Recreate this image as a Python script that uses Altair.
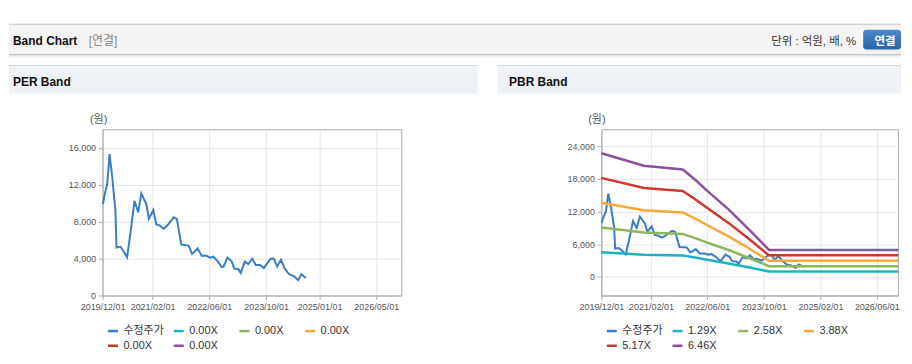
import altair as alt
import pandas as pd

# ---------------- data ----------------
price_dates = [
    "2019-12-05", "2019-12-16", "2020-01-10", "2020-01-30", "2020-02-13", "2020-02-22",
    "2020-03-06", "2020-03-20", "2020-03-29", "2020-05-02", "2020-06-28", "2020-07-26",
    "2020-08-30", "2020-10-01", "2020-10-28", "2020-11-26", "2020-12-10", "2020-12-31",
    "2021-02-07", "2021-03-05", "2021-04-02", "2021-05-06", "2021-06-09", "2021-07-31",
    "2021-08-28", "2021-10-05", "2021-12-06", "2022-01-05", "2022-01-24", "2022-02-21",
    "2022-03-29", "2022-05-11", "2022-06-08", "2022-07-06", "2022-08-13", "2022-09-16",
    "2022-10-01", "2022-11-04", "2022-12-10", "2023-01-01", "2023-02-06", "2023-02-26",
    "2023-04-02", "2023-05-01", "2023-06-04", "2023-07-05", "2023-08-09", "2023-09-12",
    "2023-10-05", "2023-11-08", "2023-12-06", "2024-01-04", "2024-02-05", "2024-03-09",
    "2024-04-15", "2024-05-25", "2024-07-01", "2024-07-29", "2024-09-05",
]
price_values = [
    9900, 10800, 12060, 15300, 13700, 12800,
    11000, 9200, 5200, 5300, 4150, 6700,
    10250, 9000, 11050, 10250, 9900, 8300,
    9260, 7700, 7600, 7200, 7600, 8460,
    8300, 5500, 5400, 4500, 4700, 5100,
    4300, 4300, 4100, 4200, 3700, 3080,
    3100, 4100, 3700, 2900, 2850, 2440,
    3660, 3400, 3980, 3300, 3300, 2970,
    3400, 3980, 3980, 3150, 3870, 2900,
    2300, 2100, 1650, 2300, 1900,
]

band_dates = ["2019-12-01", "2020-12-01", "2021-11-01", "2021-12-01", "2022-03-01",
              "2022-06-01", "2022-12-01", "2023-06-01", "2023-11-15", "2026-12-01"]
pbr_129 = [4530, 4070, 3930, 3830, 3510, 3160, 2480, 1720, 990, 990]
pbr_258 = [9070, 8150, 7870, 7670, 7030, 6310, 4950, 3430, 1980, 1980]
pbr_388 = [13630, 12250, 11830, 11530, 10570, 9490, 7450, 5170, 2970, 2970]
pbr_517 = [18170, 16330, 15770, 15370, 14080, 12640, 9920, 6880, 3960, 3960]
pbr_646 = [22700, 20400, 19700, 19200, 17600, 15800, 12400, 8600, 4950, 4950]

price_name = "수정주가"
pbr_names = ["1.29X", "2.58X", "3.88X", "5.17X", "6.46X"]
per_keys = ["PER_a", "PER_b", "PER_c", "PER_d", "PER_e"]
per_label = "0.00X"
series_colors = ["#3a7cc8", "#1cb2c4", "#8db55b", "#f5a93b", "#cf372c", "#8c519c"]

x_range = ["2019-12-01", "2026-12-01"]
x_ticks_per = ["2019-12-01", "2021-02-01", "2022-06-01", "2023-10-01", "2025-01-01", "2026-05-01"]
x_ticks_pbr = ["2019-12-01", "2021-02-01", "2022-06-01", "2023-10-01", "2025-02-01", "2026-06-01"]
y_ticks_per = [0, 4000, 8000, 12000, 16000]
y_ticks_pbr = [0, 6000, 12000, 18000, 24000]
y_range_per = [0, 18000]
y_range_pbr = [-3400, 27100]

# ---------------- tables ----------------
price_df = pd.DataFrame({"date": pd.to_datetime(price_dates), "value": price_values,
                         "series": price_name})
band_df = pd.concat([
    pd.DataFrame({"date": pd.to_datetime(band_dates), "value": vals, "series": name})
    for name, vals in zip(pbr_names, [pbr_129, pbr_258, pbr_388, pbr_517, pbr_646])
], ignore_index=True)

FONT = "Liberation Sans, Noto Sans CJK KR"


def dt(s):
    y, m, d = (int(v) for v in s.split("-"))
    return alt.DateTime(year=y, month=m, date=d)


def panel(y_range, y_ticks, x_ticks, domain, title_x, label_expr=None, bands=None):
    xenc = alt.X("date:T",
                 scale=alt.Scale(domain=[dt(x_range[0]), dt(x_range[1])]),
                 axis=alt.Axis(values=[dt(t) for t in x_ticks], format="%Y/%m/%d", title=None,
                               labelFlush=False, labelOverlap=False, grid=True))
    yenc = alt.Y("value:Q",
                 scale=alt.Scale(domain=y_range, nice=False, zero=False),
                 axis=alt.Axis(values=y_ticks, format=",d", title="(원)", titleAngle=0,
                               titleX=title_x, titleY=-10, titleAlign="center",
                               titleBaseline="middle", titleFont=FONT, titleFontSize=11,
                               titleFontWeight="normal", titleColor="#555555",
                               labelFlush=False, grid=True))
    leg = dict(orient="none", legendX=4, legendY=196, direction="horizontal", columns=4,
               title=None, symbolType="stroke", symbolSize=100, symbolStrokeWidth=2.5,
               labelFont=FONT, labelFontSize=11, labelColor="#333333", labelOffset=4,
               columnPadding=4, rowPadding=3, gridAlign="all", padding=0)
    if label_expr:
        leg["labelExpr"] = label_expr
    color = alt.Color("series:N", scale=alt.Scale(domain=domain, range=series_colors),
                      legend=alt.Legend(**leg))
    layers = [alt.Chart(price_df).mark_line(strokeWidth=2).encode(x=xenc, y=yenc, color=color)]
    if bands is not None:
        layers.append(alt.Chart(bands).mark_line(strokeWidth=2.5).encode(
            x=xenc, y=yenc, color=color, detail="series:N"))
    return layers


# ---------------- page decoration (page pixel coordinates) ----------------
OX, OY = 102, 128
RIGHT = 904   # keep the drawing inside the window (8px page margin)
one = pd.DataFrame({"k": [0]})


def box(x1, y1, x2, y2, fill, radius=0):
    return alt.Chart(one).mark_rect(fill=fill, cornerRadius=radius).encode(
        x=alt.value(x1 - OX), x2=alt.value(x2 - OX), y=alt.value(y1 - OY), y2=alt.value(y2 - OY))


def label(x, y, s, size, color, weight="normal", align="left"):
    return alt.Chart(one).mark_text(align=align, baseline="alphabetic", font=FONT, fontSize=size,
                                    fontWeight=weight, color=color).encode(
        x=alt.value(x - OX), y=alt.value(y - OY), text=alt.value(s))


button_fill = alt.LinearGradient(
    gradient="linear", x1=0, y1=0, x2=0, y2=1,
    stops=[alt.GradientStop(color="#4a8ad0", offset=0), alt.GradientStop(color="#2a63a6", offset=1)])

chrome = [
    box(8, 8, RIGHT, 22, "#ffffff"),
    box(8, 22, RIGHT, 23, "#b5b5b5"),
    box(8, 23, RIGHT, 52.5, "#f4f4f4"),
    box(8, 52.5, RIGHT, 53.5, "#c4c4c4"),
    box(8, 53.5, RIGHT, 55, "#e2e2e2"),
    box(8, 55, RIGHT, 56.5, "#f3f3f3"),
    label(12, 43, "Band Chart", 12, "#111111", "bold"),
    label(88, 43, "[연결]", 12, "#888888"),
    label(859, 43, "단위 : 억원, 배, %", 11.5, "#333333", align="right"),
    box(866, 28, RIGHT, 48, button_fill, radius=3),
    label(888, 43, "연결", 11.5, "#ffffff", "bold", align="center"),
    box(8, 63.5, 478.7, 64.5, "#d6d6d6"),
    box(8, 64.5, 478.7, 92.3, "#eef2f7"),
    box(498.7, 63.5, RIGHT, 64.5, "#d6d6d6"),
    box(498.7, 64.5, RIGHT, 92.3, "#eef2f7"),
    label(12, 85, "PER Band", 12, "#111111", "bold"),
    label(510.3, 85, "PBR Band", 12, "#111111", "bold"),
]

per_layers = panel(y_range_per, y_ticks_per, x_ticks_per, [price_name] + per_keys, -4.5,
                   label_expr=f"datum.value == '{price_name}' ? '{price_name}' : '{per_label}'")
pbr_layers = panel(y_range_pbr, y_ticks_pbr, x_ticks_pbr, [price_name] + pbr_names, -5,
                   bands=band_df)

left = alt.layer(*chrome, *per_layers).properties(width=300, height=167)
right = alt.layer(*pbr_layers).properties(width=298, height=167)

chart = (
    alt.hconcat(left, right, spacing=201, bounds="flush")
    .resolve_scale(color="independent", x="independent", y="independent")
    .properties(padding=0)
    .configure(background="#ffffff")
    .configure_view(stroke="#aaaaaa", strokeWidth=1)
    .configure_axis(labelFont=FONT, labelFontSize=9, labelColor="#555555",
                    domainColor="#aaaaaa", tickColor="#aaaaaa", gridColor="#e6e6e6",
                    tickSize=4, labelPadding=3)
)

chart.save("out.html", embed_options={"renderer": "svg", "actions": False})
